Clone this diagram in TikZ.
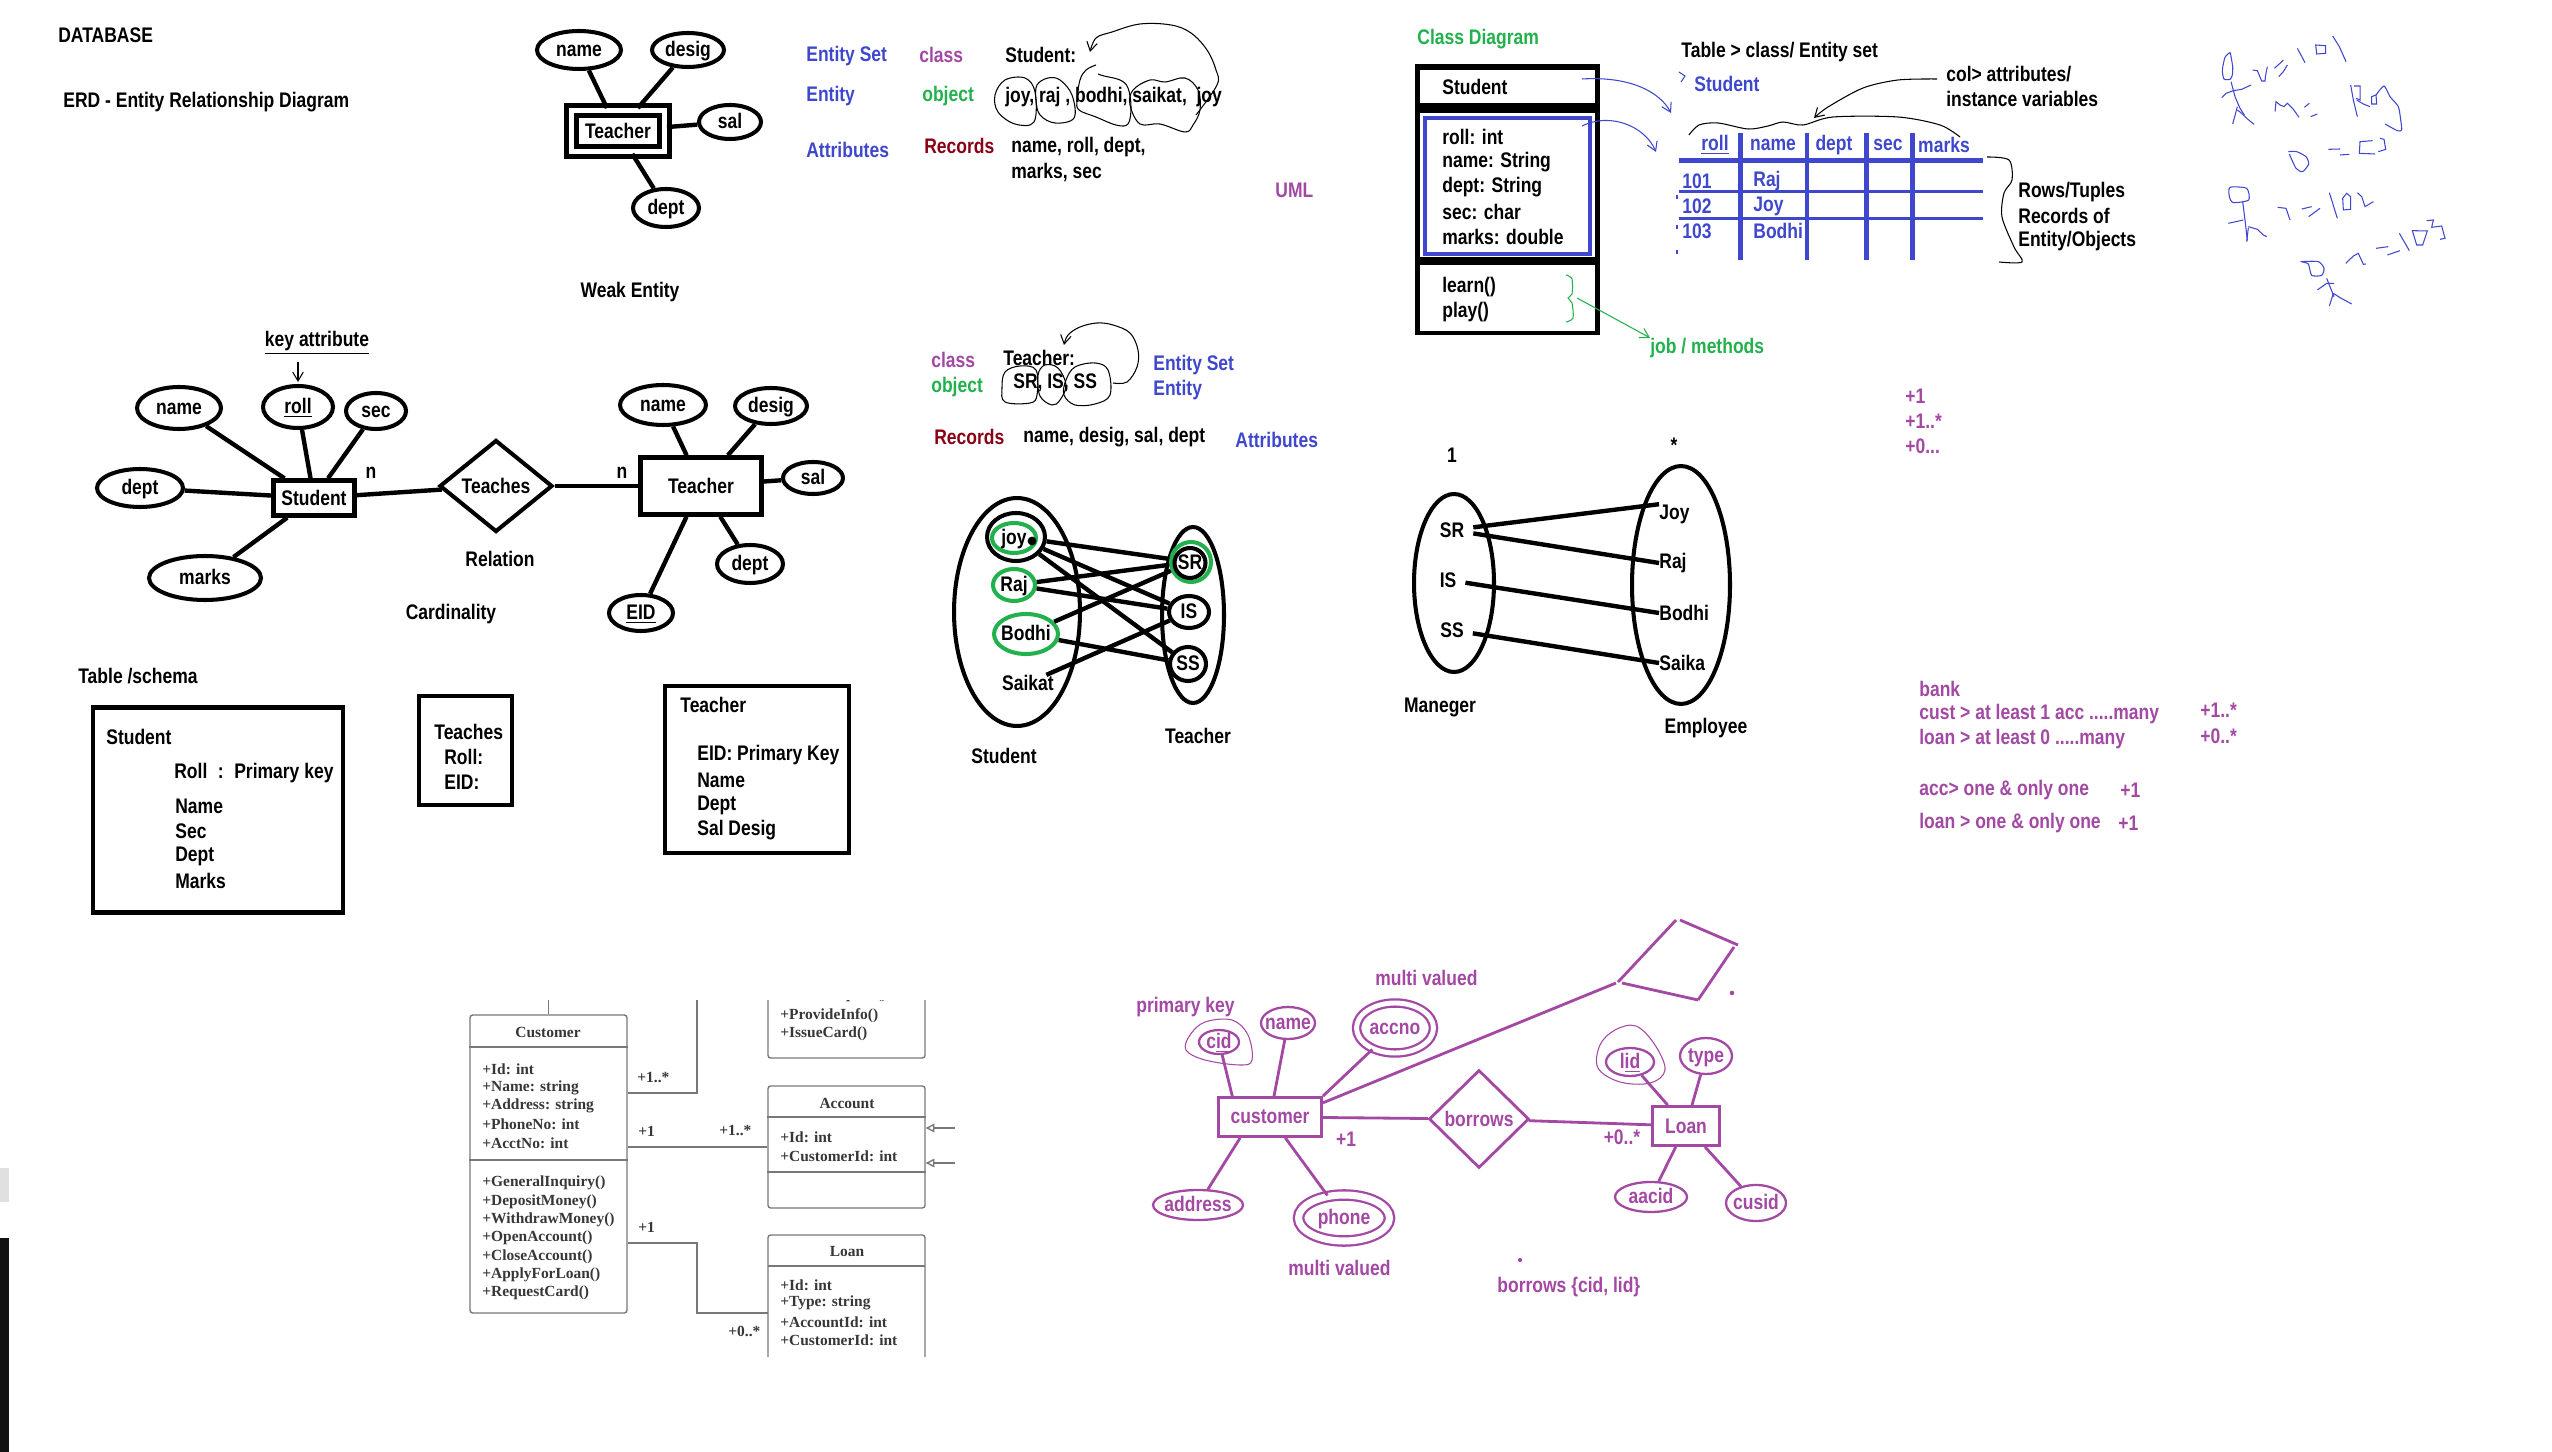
\documentclass[tikz,border=0pt]{standalone}
\usepackage{fontspec}
\usepackage{tikz}
\usetikzlibrary{shapes.geometric,arrows.meta}

\newfontfamily\paintfont{Liberation Sans}[FakeStretch=0.83]
\newfontfamily\umlfont{Liberation Serif}
\newcommand{\paintsize}{\paintfont\bfseries\fontsize{12pt}{14pt}\selectfont}
\newcommand{\umlsize}{\umlfont\bfseries\fontsize{8.8pt}{10pt}\selectfont}
\newcommand{\ztext}[1]{\makebox[0pt]{\raisebox{-0.33em}[0pt][0pt]{#1}}}

\definecolor{pblue}{RGB}{63,72,204}
\definecolor{ppurple}{RGB}{163,73,164}
\definecolor{pgreen}{RGB}{34,177,76}
\definecolor{pred}{RGB}{136,0,21}
\definecolor{umlgray}{RGB}{120,120,120}
\definecolor{umltext}{RGB}{55,55,55}

\begin{document}
\begin{tikzpicture}[x=0.02cm, y=-0.02cm,
  every node/.style={font=\paintsize, inner sep=0pt},
  txt/.style={anchor=west},
  attr/.style={ellipse, draw, line width=2.3pt},
  ent/.style={rectangle, draw, line width=2.5pt},
  rel/.style={diamond, draw, line width=2.3pt},
  link/.style={line width=2.5pt},
  hand/.style={line width=0.6pt},
  barb/.style={-{Straight Barb[length=5pt,width=6pt]}},
  schema/.style={rectangle, draw, line width=2.5pt},
  set/.style={ellipse, draw, line width=2.3pt},
  gset/.style={ellipse, draw=pgreen, line width=2.3pt},
  pattr/.style={ellipse, draw=ppurple, text=ppurple, line width=1.3pt},
  pent/.style={rectangle, draw=ppurple, text=ppurple, line width=1.6pt},
  prel/.style={diamond, draw=ppurple, text=ppurple, line width=1.6pt},
  plink/.style={draw=ppurple, line width=1.6pt},
  ptxt/.style={anchor=west, text=ppurple},
  uml/.style={font=\umlsize, text=umltext, anchor=west},
  umlbox/.style={rectangle, draw=umlgray, line width=0.8pt, rounded corners=1.5pt},
  umlline/.style={draw=umlgray, line width=0.8pt}
]
\useasboundingbox (0,0) rectangle (2552,1452);
\fill[white] (0,0) rectangle (2552,1452);

% titles
\node[txt] (dbase) at (58,35) {DATABASE};
\node[txt] (erd) at (63,102) {ERD - Entity Relationship Diagram};

% weak entity
\node[ent, double, double distance=2.8pt, line width=2.8pt, minimum width=1.86cm, minimum height=0.82cm] (wteach) at (618,131) {Teacher};
\node[attr, minimum width=1.68cm, minimum height=0.76cm] (wname) at (579,50) {\ztext{name}};
\node[attr, minimum width=1.44cm, minimum height=0.68cm] (wdesig) at (688,50) {\ztext{desig}};
\node[attr, minimum width=1.24cm, minimum height=0.68cm] (wsal) at (730,122) {\ztext{sal}};
\node[attr, minimum width=1.32cm, minimum height=0.76cm] (wdept) at (666,208) {\ztext{dept}};
\path[link] (wname) edge (wteach)
            (wdesig) edge (wteach)
            (wsal) edge (wteach)
            (wdept) edge (wteach);
\node (weak) at (630,292) {Weak Entity};

% class / object notes
\node[txt, text=pblue] (eset1) at (806,56) {Entity Set};
\node[txt, text=pblue] (ent1) at (806,96) {Entity};
\node[txt, text=pblue] (attr1) at (806,150) {Attributes};
\node[txt, text=ppurple] (cls1) at (919,55) {class};
\node[txt, text=pgreen] (obj1) at (922,96) {object};
\node[txt, text=pred] (rec1) at (924,146) {Records};
\node[txt] (stucolon) at (1005,55) {Student:};
\node[txt] (stuobjs) at (1005,97) {joy, raj , bodhi, saikat,\ \ joy};
\node[txt] (stuattrs) at (1011,147) {name, roll, dept,};
\node[txt] (stuattrs2) at (1011,172) {marks, sec};
\node[txt, text=ppurple] (uml) at (1275,190) {UML};
\draw[hand] plot[smooth cycle, tension=0.6] coordinates {(995,95) (1005,80) (1025,78) (1035,92) (1034,122) (1015,124) (998,112)};
\draw[hand] plot[smooth cycle, tension=0.6] coordinates {(1037,85) (1048,78) (1060,80) (1072,95) (1074,118) (1055,123) (1040,115) (1036,100)};
\draw[hand] plot[smooth, tension=0.6] coordinates {(1096,65) (1086,70) (1080,80) (1077,100) (1079,110) (1096,117) (1116,125) (1128,124) (1131,107) (1128,88) (1120,80) (1104,76) (1098,74)};
\draw[hand] plot[smooth cycle, tension=0.6] coordinates {(1133,90) (1150,80) (1165,82) (1185,78) (1198,90) (1200,110) (1193,125) (1185,132) (1160,124) (1140,124) (1130,105)};
\draw[hand, barb] plot[smooth, tension=0.6] coordinates {(1196,115) (1217,85) (1216,70) (1207,50) (1191,33) (1171,25) (1140,24) (1112,32) (1096,38) (1090,52)};

% class diagram
\node[txt, text=pgreen] (cdtitle) at (1417,39) {Class Diagram};
\node[fill=black, minimum width=3.70cm, minimum height=5.42cm] (cbox) at (1507.5,199.5) {};
\node[fill=white, minimum width=3.50cm, minimum height=0.66cm] (chead) at (1507.5,86.5) {};
\node[fill=white, minimum width=3.50cm, minimum height=2.88cm] (cattr) at (1507.5,185) {};
\node[fill=white, minimum width=3.50cm, minimum height=1.32cm] (cmeth) at (1507.5,298) {};
\draw[pblue, line width=2.4pt] (1425,118) rectangle (1590,254);
\node[txt] (cstu) at (1442,87) {Student};
\node[txt] (croll) at (1442,137) {roll: int};
\node[txt] (cname) at (1442,162) {name: String};
\node[txt] (cdept) at (1442,187) {dept: String};
\node[txt] (csec) at (1442,212) {sec: char};
\node[txt] (cmarks) at (1442,237) {marks: double};
\node[txt] (clearn) at (1442,287) {learn()};
\node[txt] (cplay) at (1442,312) {play()};
\draw[hand, pgreen] plot[smooth, tension=0.5] coordinates {(1566,275) (1572,279) (1572,294) (1568,298) (1572,303) (1573,318) (1566,322)};
\node[txt, text=pgreen] (jobs) at (1650,348) {job / methods};
\coordinate (jfrom) at (1577,298);
\draw[hand, pgreen, barb] (jfrom) -- (jobs.north west);

% table
\node[txt] (tabtitle) at (1681,52) {Table > class/ Entity set};
\draw[hand, pblue] (1679,72) -- (1685,76) -- (1681,82);
\node[txt, text=pblue] (tabstu) at (1694,84) {Student};
\node[txt] (colnote) at (1946,74) {col> attributes/};
\node[txt] (colnote2) at (1946,99) {instance variables};
\node[text=pblue] (hroll) at (1715,145) {\underline{roll}};
\node[text=pblue] (hname) at (1773,145) {name};
\node[text=pblue] (hdept) at (1834,145) {dept};
\node[text=pblue] (hsec) at (1888,145) {sec};
\node[text=pblue] (hmarks) at (1944,145) {marks};
\draw[pblue, line width=3pt] (1679,160.5) -- (1983,160.5);
\draw[pblue, line width=1.9pt] (1679,191.5) -- (1983,191.5);
\draw[pblue, line width=1.9pt] (1679,218.5) -- (1983,218.5);
\foreach \cx in {1740.5,1807,1866.5,1912.5}
  \draw[pblue, line width=2.4pt] (\cx,133) -- (\cx,260);
\foreach \ty in {195,225,250}
  \draw[pblue, line width=0.8pt] (1677,\ty) -- (1677,\ty+4);
\node[txt, text=pblue] (r101) at (1682,181) {101};
\node[txt, text=pblue] (r102) at (1682,206) {102};
\node[txt, text=pblue] (r103) at (1682,231) {103};
\node[txt, text=pblue] (rraj) at (1753,181) {Raj};
\node[txt, text=pblue] (rjoy) at (1753,206) {Joy};
\node[txt, text=pblue] (rbodhi) at (1753,231) {Bodhi};
\coordinate (ha) at (1582,79);
\coordinate (hb) at (1671,113);
\coordinate (aa) at (1582,126);
\coordinate (ab) at (1656,152);
\draw[hand, pblue, barb] (ha) .. controls (1630,76) and (1660,92) .. (hb);
\draw[hand, pblue, barb] (aa) .. controls (1610,112) and (1645,126) .. (ab);
\draw[hand] plot[smooth, tension=0.5] coordinates {(1689,135) (1699,125) (1718,123) (1748,129) (1768,126) (1783,122) (1803,125) (1833,117) (1898,117) (1940,125) (1960,137)};
\draw[hand, barb] plot[smooth, tension=0.5] coordinates {(1937,79) (1898,80) (1863,88) (1828,107) (1814,118)};
\draw[hand] plot[smooth, tension=0.5] coordinates {(1987,157) (2009,160) (2012,180) (2004,193) (2002,217) (2014,247) (2022,262) (1999,262)};
\node[txt] (rows1) at (2018,192) {Rows/Tuples};
\node[txt] (rows2) at (2018,216) {Records of};
\node[txt] (rows3) at (2018,241) {Entity/Objects};

% handwritten notes
\begin{scope}[shift={(2180,0)}, scale=1/3, pblue, hand]
\draw plot[smooth cycle, tension=0.4] coordinates {(135,172) (150,158) (153,170) (158,200) (157,225) (150,238) (132,237) (127,210)};
\draw (153,245) -- (165,290) -- (180,325) -- (193,345);
\draw (125,293) -- (138,280) -- (160,272) -- (185,268) -- (213,255);
\draw (172,320) -- (158,372);
\draw (172,330) -- (185,340) -- (200,355) -- (222,373);
\draw (218,210) -- (232,212) -- (245,243) -- (255,243) -- (257,225) -- (262,200);
\draw (283,205) -- (300,190) -- (310,180);
\draw (296,230) -- (310,215) -- (322,195);
\draw (352,145) -- (375,188);
\draw (407,135) -- (437,137) -- (437,160) -- (410,162) -- cycle;
\draw (458,108) -- (478,140) -- (498,185);
\draw (285,335) -- (288,305) -- (300,315) -- (312,320) -- (322,310) -- (340,328) -- (357,352);
\draw (373,322) -- (388,310);
\draw (392,350) -- (412,342);
\draw (512,255) -- (520,300) -- (532,350);
\draw (522,258) -- (540,258) -- (540,300) -- (528,295);
\draw (530,300) -- (550,312) -- (570,320);
\draw (575,290) -- (588,285) -- (590,312) -- (575,312) -- cycle;
\draw plot[smooth, tension=0.4] coordinates {(588,285) (612,258) (630,290) (655,320) (662,360) (665,390) (652,392) (615,372)};
\draw plot[smooth, tension=0.4] coordinates {(325,455) (350,455) (378,470) (386,492) (368,515) (348,505) (328,462)};
\draw (445,448) -- (480,447);
\draw (480,465) -- (508,463);
\draw (578,422) -- (540,425) -- (538,460) -- (585,462);
\draw (600,415) -- (612,418) -- (617,448) -- (595,455);
\draw plot[smooth cycle, tension=0.4] coordinates {(150,562) (200,565) (206,600) (160,608) (148,590)};
\draw (188,605) -- (195,660) -- (202,722);
\draw (145,670) -- (190,660);
\draw (205,683) -- (200,725);
\draw (205,680) -- (232,688) -- (250,705) -- (260,710);
\draw (293,622) -- (318,625) -- (330,660);
\draw (365,627) -- (395,620);
\draw (386,650) -- (420,625);
\draw (448,578) -- (472,655);
\draw (488,595) -- (500,580) -- (512,590) -- (512,628) -- (490,630) -- cycle;
\draw (532,578) -- (545,590) -- (555,620) -- (580,605);
\draw plot[smooth cycle, tension=0.4] coordinates {(365,785) (415,785) (432,805) (425,826) (395,826) (385,792)};
\draw (440,835) -- (450,860) -- (462,890);
\draw (412,870) -- (440,850) -- (462,850);
\draw (460,880) -- (448,918);
\draw (460,880) -- (480,893) -- (515,912);
\draw (497,790) -- (520,768) -- (535,760) -- (550,793) -- (558,792);
\draw (588,745) -- (625,740);
\draw (622,765) -- (660,752);
\draw (658,700) -- (688,752);
\draw (697,692) -- (742,693) -- (728,735) -- (710,735) -- cycle;
\draw (740,662) -- (760,660) -- (755,682) -- (785,678) -- (795,715) -- (780,718);
\end{scope}

% ERD
\node (keyattr) at (317,343) {\underline{key attribute}};
\node[ent, minimum width=1.62cm, minimum height=0.70cm] (stu) at (314,498) {Student};
\node[attr, minimum width=1.68cm, minimum height=0.84cm] (sname) at (179,408) {\ztext{name}};
\node[attr, minimum width=1.40cm, minimum height=0.84cm] (sroll) at (298,407) {\ztext{\underline{roll}}};
\node[attr, minimum width=1.20cm, minimum height=0.72cm] (ssec) at (376,411) {\ztext{sec}};
\node[attr, minimum width=1.72cm, minimum height=0.76cm] (sdept) at (140,488) {\ztext{dept}};
\node[attr, minimum width=2.24cm, minimum height=0.88cm] (smarks) at (205,578) {\ztext{marks}};
\node[rel, minimum width=2.26cm, minimum height=1.84cm] (teaches) at (496,486) {Teaches};
\node[ent, minimum width=2.42cm, minimum height=1.14cm] (tch) at (701,486) {Teacher};
\node[attr, minimum width=1.72cm, minimum height=0.80cm] (tname) at (663,405) {\ztext{name}};
\node[attr, minimum width=1.44cm, minimum height=0.72cm] (tdesig) at (771,406) {\ztext{desig}};
\node[attr, minimum width=1.20cm, minimum height=0.64cm] (tsal) at (813,478) {\ztext{sal}};
\node[attr, minimum width=1.32cm, minimum height=0.76cm] (tdept) at (750,564) {\ztext{dept}};
\node[attr, minimum width=1.28cm, minimum height=0.72cm] (teid) at (641,613) {\ztext{\underline{EID}}};
\path[link] (sname) edge (stu)
            (sroll) edge (stu)
            (ssec) edge (stu)
            (sdept) edge (stu)
            (smarks) edge (stu)
            (stu) edge (teaches)
            (teaches) edge (tch)
            (tname) edge (tch)
            (tdesig) edge (tch)
            (tsal) edge (tch)
            (tdept) edge (tch)
            (teid) edge (tch);
\draw[hand, barb] (keyattr.south -| sroll) ++(0,7) -- ++(0,20);
\node (n1) at (371,473) {n};
\node (n2) at (622,473) {n};
\node (relation) at (500,559) {Relation};
\node (cardin) at (451,614) {Cardinality};

% table / schema
\node[txt] (tabschema) at (78,676) {Table /schema};
\node[schema, minimum width=5.0cm, minimum height=4.1cm] (stab) at (218,810) {};
\node[txt] (stabname) at (106,737) {Student};
\node[txt] (stabroll) at (174,773) {Roll\hspace{6pt}:\hspace{6pt}Primary key};
\node[txt] (stabn) at (175,806) {Name};
\node[txt] (stabs) at (175,831) {Sec};
\node[txt] (stabd) at (175,856) {Dept};
\node[txt] (stabm) at (175,881) {Marks};
\node[schema, minimum width=1.86cm, minimum height=2.18cm] (ttab) at (465.5,750.5) {};
\node[txt] (ttabname) at (434,732) {Teaches};
\node[txt] (ttabroll) at (444,757) {Roll:};
\node[txt] (ttabeid) at (444,782) {EID:};
\node[schema, minimum width=3.68cm, minimum height=3.34cm] (rtab) at (757,769.5) {};
\node[txt] (rtabname) at (680,705) {Teacher};
\node[txt] (rtabeid) at (697,755) {EID: Primary Key};
\node[txt] (rtabn) at (697,780) {Name};
\node[txt] (rtabd) at (697,805) {Dept};
\node[txt] (rtabs) at (697,830) {Sal Desig};

% teacher objects
\node[txt, text=ppurple] (cls2) at (931,360) {class};
\node[txt, text=pgreen] (obj2) at (931,387) {object};
\node[txt] (tchcolon) at (1003,358) {Teacher:};
\node[txt] (tchobjs) at (1013,383) {SR, IS, SS};
\node[txt, text=pblue] (eset2) at (1153,365) {Entity Set};
\node[txt, text=pblue] (ent2) at (1153,390) {Entity};
\node[txt, text=pred] (rec2) at (934,437) {Records};
\node[txt] (attrs2) at (1023,437) {name, desig, sal, dept};
\node[txt, text=pblue] (attr2) at (1235,440) {Attributes};
\draw[hand] plot[smooth cycle, tension=0.6] coordinates {(1005,372) (1020,366) (1036,370) (1037,395) (1030,403) (1005,402) (1002,388)};
\draw[hand] plot[smooth cycle, tension=0.6] coordinates {(1038,375) (1045,365) (1058,368) (1066,385) (1060,400) (1052,405) (1040,396)};
\draw[hand] plot[smooth cycle, tension=0.6] coordinates {(1066,380) (1075,367) (1095,363) (1108,370) (1110,395) (1095,404) (1075,405) (1064,395)};
\draw[hand, barb] plot[smooth, tension=0.6] coordinates {(1113,383) (1127,382) (1137,367) (1138,350) (1130,333) (1113,325) (1097,323) (1080,327) (1068,335) (1064,345)};

% student - teacher sets
\node[set, minimum width=2.52cm, minimum height=4.56cm] (stuset) at (1017,612) {};
\node[set, minimum width=1.16cm, minimum height=0.96cm] (bjoy) at (1016,537) {};
\node[gset, minimum width=0.88cm, minimum height=0.60cm] (gjoy) at (1014,538) {\ztext{joy}};
\node[gset, minimum width=0.84cm, minimum height=0.64cm] (graj) at (1014,585) {\ztext{Raj}};
\node[gset, minimum width=1.28cm, minimum height=0.80cm] (gbodhi) at (1026,634) {\ztext{Bodhi}};
\node (ssaikat) at (1028,683) {Saikat};
\node (stulbl) at (1004,756) {Student};
\node[set, minimum width=1.24cm, minimum height=3.52cm] (tchset) at (1193,615) {};
\node[gset, minimum width=0.80cm, minimum height=0.80cm] (gsr) at (1191,562) {};
\node[set, minimum width=0.62cm, minimum height=0.60cm] (tsr) at (1190,563) {\ztext{SR}};
\node[set, minimum width=0.80cm, minimum height=0.64cm] (tis) at (1189,612) {\ztext{IS}};
\node[set, minimum width=0.72cm, minimum height=0.68cm] (tss) at (1188,664) {\ztext{SS}};
\node (tchlbl) at (1198,736) {Teacher};
\path[link] (bjoy) edge (gsr)
            (bjoy) edge (tis)
            (bjoy) edge (tss)
            (graj) edge (gsr)
            (graj) edge (tis)
            (gbodhi) edge (gsr)
            (gbodhi) edge (tss)
            (ssaikat) edge (tis);
\fill (1032,541) circle (2.5pt);

% manager - employee
\node (one) at (1452,455) {1};
\node (star) at (1674,445) {*};
\node[set, minimum width=1.6cm, minimum height=3.56cm] (mgrset) at (1454,583) {};
\node[set, minimum width=1.96cm, minimum height=4.76cm] (empset) at (1681,585) {};
\node[inner sep=5pt] (msr) at (1452,530) {SR};
\node[inner sep=5pt] (mis) at (1448,580) {IS};
\node[inner sep=5pt] (mss) at (1452,630) {SS};
\node[txt] (ejoy) at (1659,514) {Joy};
\node[txt] (eraj) at (1659,563) {Raj};
\node[txt] (ebodhi) at (1659,613) {Bodhi};
\node[txt] (esaika) at (1659,663) {Saika};
\path[link] (msr) edge (ejoy.north west)
            (msr) edge (eraj.west)
            (mis) edge (ebodhi.west)
            (mss) edge (esaika.west);
\node (mgrlbl) at (1440,707) {Maneger};
\node (emplbl) at (1706,728) {Employee};

% multiplicity notes
\node[ptxt] (m1) at (1905,396) {+1};
\node[ptxt] (m2) at (1905,421) {+1..*};
\node[ptxt] (m3) at (1905,446) {+0...};
\node[ptxt] (bank) at (1919,689) {bank};
\node[ptxt] (custl) at (1919,714) {cust > at least 1 acc .....many};
\node[ptxt] (loanl) at (1919,739) {loan > at least 0 .....many};
\node[ptxt] (custm) at (2200,710) {+1..*};
\node[ptxt] (loanm) at (2200,736) {+0..*};
\node[ptxt] (accl) at (1919,790) {acc> one \& only one};
\node[ptxt] (accm) at (2120,790) {+1};
\node[ptxt] (loan1l) at (1919,823) {loan > one \& only one};
\node[ptxt] (loan1m) at (2118,823) {+1};

% bank uml
\node[umlbox, minimum width=3.14cm, minimum height=5.96cm] (custbox) at (548.5,1164) {};
\draw[umlline] (custbox.west |- 0,1047) -- (custbox.east |- 0,1047);
\draw[umlline] (custbox.west |- 0,1160) -- (custbox.east |- 0,1160);
\node[uml, anchor=center] (custname) at (548,1032) {Customer};
\node[uml] (cu1) at (482,1069) {+Id: int};
\node[uml] (cu2) at (482,1088) {+Name: string};
\node[uml] (cu3) at (482,1106) {+Address: string};
\node[uml] (cu4) at (482,1124) {+PhoneNo: int};
\node[uml] (cu5) at (482,1143) {+AcctNo: int};
\node[uml] (cm1) at (482,1183) {+GeneralInquiry()};
\node[uml] (cm2) at (482,1202) {+DepositMoney()};
\node[uml] (cm3) at (482,1220) {+WithdrawMoney()};
\node[uml] (cm4) at (482,1238) {+OpenAccount()};
\node[uml] (cm5) at (482,1257) {+CloseAccount()};
\node[uml] (cm6) at (482,1275) {+ApplyForLoan()};
\node[uml] (cm7) at (482,1293) {+RequestCard()};
\node[umlbox, minimum width=3.14cm, minimum height=2.44cm] (acct) at (846.5,1147) {};
\draw[umlline] (acct.west |- 0,1117) -- (acct.east |- 0,1117);
\draw[umlline] (acct.west |- 0,1172) -- (acct.east |- 0,1172);
\node[uml, anchor=center] (acctname) at (847,1103) {Account};
\node[uml] (ac1) at (780,1137) {+Id: int};
\node[uml] (ac2) at (780,1156) {+CustomerId: int};
\draw[umlline, rounded corners=1.5pt] (768,1000) |- (925,1058) -- (925,1000);
\node[uml] (bk1) at (780,1016) {+ProvideInfo()};
\node[uml] (bk2) at (780,1034) {+IssueCard()};
\begin{scope}
\clip (460,1000) rectangle (930,1012);
\node[uml] (bk0) at (780,995) {+LoanRequest()};
\node[uml] (topm) at (560,995) {+1..*};
\end{scope}
\draw[umlline, rounded corners=1.5pt] (768,1357) |- (925,1235) -- (925,1357);
\draw[umlline] (768,1266) -- (925,1266);
\node[uml, anchor=center] (loanname) at (847,1252) {Loan};
\node[uml] (lo1) at (780,1285) {+Id: int};
\node[uml] (lo2) at (780,1303) {+Type: string};
\node[uml] (lo3) at (780,1322) {+AccountId: int};
\node[uml] (lo4) at (780,1340) {+CustomerId: int};
\coordinate (upcut) at (697,1000);
\coordinate (loanw) at (768,1313);
\coordinate (gen1) at (955,1128);
\coordinate (gen2) at (955,1163);
\draw[umlline] (custbox.north) -- (custbox.north |- upcut);
\draw[umlline] (custbox.east |- 0,1093) -| (upcut);
\draw[umlline] (custbox.east |- acct.west) -- (acct.west);
\draw[umlline] (custbox.east |- 0,1243) -| (697,1313) -- (loanw);
\draw[umlline, -{Triangle[open, length=5pt, width=5pt]}] (gen1) -- (acct.east |- gen1);
\draw[umlline, -{Triangle[open, length=5pt, width=5pt]}] (gen2) -- (acct.east |- gen2);
\node[uml] (mu1) at (637,1077) {+1..*};
\node[uml] (mu2) at (638,1131) {+1};
\node[uml] (mu3) at (719,1131) {+1..*};
\node[uml] (mu4) at (638,1227) {+1};
\node[uml] (mu5) at (728,1331) {+0..*};

% bank er diagram
\node[ptxt] (mv1) at (1375,978) {multi valued};
\node[ptxt] (pkey) at (1136,1007) {primary key};
\node[pattr, minimum width=0.80cm, minimum height=0.48cm] (pcid) at (1219,1042) {\ztext{c\underline{id}}};
\node[pattr, minimum width=1.08cm, minimum height=0.64cm] (pname) at (1288,1023) {\ztext{name}};
\node[pattr, double, double distance=2.8pt, minimum width=1.54cm, minimum height=1.0cm] (accno) at (1395,1028) {\ztext{accno}};
\node[pent, minimum width=2.06cm, minimum height=0.78cm] (cust2) at (1270,1117) {customer};
\node[prel, minimum width=2.0cm, minimum height=1.96cm] (borrows) at (1479,1119) {borrows};
\node[pent, minimum width=1.34cm, minimum height=0.78cm] (loan2) at (1686,1126) {Loan};
\node[pattr, minimum width=0.96cm, minimum height=0.56cm] (plid) at (1630,1062) {\ztext{l\underline{id}}};
\node[pattr, minimum width=1.04cm, minimum height=0.72cm] (ptype) at (1706,1056) {\ztext{type}};
\node[pattr, minimum width=1.44cm, minimum height=0.60cm] (aacid) at (1651,1197) {\ztext{aacid}};
\node[pattr, minimum width=1.20cm, minimum height=0.72cm] (cusid) at (1756,1203) {\ztext{cusid}};
\node[pattr, minimum width=1.80cm, minimum height=0.60cm] (paddr) at (1198,1205) {\ztext{address}};
\node[pattr, double, double distance=4pt, minimum width=1.82cm, minimum height=0.92cm] (phone) at (1344,1218) {\ztext{phone}};
\coordinate (q1) at (1616,983);
\path[plink] (pcid) edge (cust2.151)
             (pname) edge (cust2)
             (accno) edge (cust2.north east)
             (cust2.15) edge (q1)
             (paddr) edge (cust2.215)
             (phone) edge (cust2)
             (cust2) edge (borrows)
             (borrows) edge (loan2)
             (plid) edge (loan2)
             (ptype) edge (loan2)
             (aacid) edge (loan2)
             (cusid) edge (loan2);
\draw[plink] (1618,982) -- (1676,920);
\draw[plink] (1680,920) -- (1738,945);
\draw[plink] (1734,947) -- (1698,1000);
\draw[plink] (1698,1000) -- (1622,983);
\fill[ppurple] (1732,993) circle (1.3pt);
\draw[hand, ppurple] plot[smooth cycle, tension=0.6] coordinates {(1190,1035) (1205,1022) (1232,1020) (1248,1035) (1252,1060) (1240,1065) (1205,1060) (1186,1050)};
\draw[hand, ppurple] plot[smooth cycle, tension=0.6] coordinates {(1600,1045) (1615,1030) (1636,1026) (1655,1045) (1665,1070) (1650,1083) (1620,1082) (1598,1068)};
\node[text=ppurple] (pone) at (1346,1139) {+1};
\node[text=ppurple] (pzero) at (1622,1137) {+0..*};
\node[ptxt] (mv2) at (1288,1268) {multi valued};
\fill[ppurple] (1520,1260) circle (1.2pt);
\node[ptxt] (bkey) at (1497,1287) {borrows \{cid, lid\}};

% screen edge
\fill[black!12] (0,1168) rectangle (9,1202);
\fill[black!93] (0,1238) rectangle (9,1452);
\end{tikzpicture}
\end{document}
